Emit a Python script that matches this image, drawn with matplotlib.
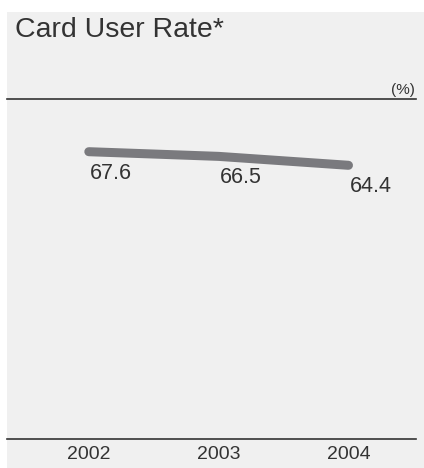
import matplotlib
matplotlib.use("Agg")
import matplotlib.pyplot as plt
from matplotlib.patches import Rectangle

years = ["2002", "2003", "2004"]
user_rate = [67.6, 66.5, 64.4]
title = "Card User Rate*"
unit = "(%)"

plt.rcParams["font.family"] = ["Liberation Sans", "DejaVu Sans"]
W, H = 424, 468
fig = plt.figure(figsize=(W / 100, H / 100), dpi=100)
fig.patch.set_facecolor("white")

# light panel behind the chart
fig.patches.append(Rectangle((7 / W, 0), 1 - 7 / W, (H - 12) / H,
                             transform=fig.transFigure, facecolor="#f0f0f0",
                             edgecolor="none", zorder=-5))

ax = fig.add_axes([7 / W, (H - 439) / H, (416 - 7) / W, (439 - 99) / H])
ax.set_facecolor("none")
x = list(range(len(years)))
ax.plot(x, user_rate, color="#7a7a7e", lw=6.5, solid_capstyle="round", zorder=3)
ax.set_xlim(-0.63, 2.52)
ax.set_ylim(0, 80)

for xi, v in zip(x, user_rate):
    ax.annotate(f"{v:.1f}", (xi, v), xytext=(1, -11), textcoords="offset pixels",
                ha="left", va="top", fontsize=15.5, color="#333333")

for side in ("left", "right"):
    ax.spines[side].set_visible(False)
for side in ("top", "bottom"):
    ax.spines[side].set_color("#333333")
    ax.spines[side].set_linewidth(1.2)
ax.set_yticks([])
ax.set_xticks(x)
ax.set_xticklabels(years, fontsize=14, color="#333333")
ax.tick_params(axis="x", length=0, pad=5)

fig.text(15 / W, 1 - 37 / H, title, fontsize=20.5, color="#333333",
         ha="left", va="baseline")
fig.text(415 / W, 1 - 94 / H, unit, fontsize=11, color="#333333",
         ha="right", va="baseline")

fig.savefig("out.png", dpi=100)
